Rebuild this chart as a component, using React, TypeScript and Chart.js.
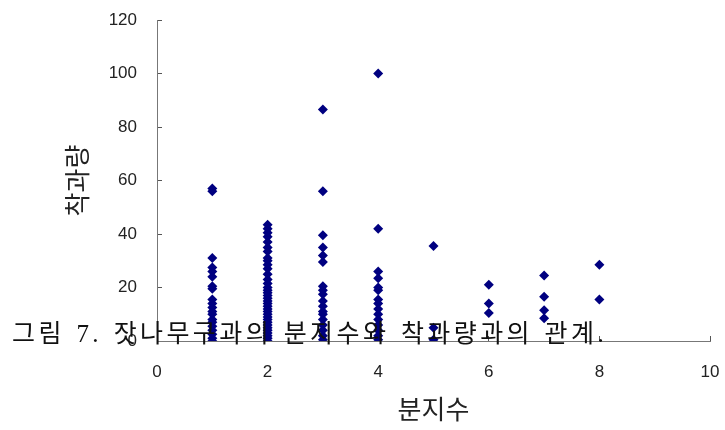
import React, { useEffect, useRef } from "react";
import { Chart, registerables } from "chart.js";

Chart.register(...registerables);

// 분지수 (number of branches) -> 착과량 (cone yield) observations
const branchCounts = [1, 2, 3, 4, 5, 6, 7, 8];
const yieldBranch1 = [57, 56, 31, 27.5, 26, 24, 20.5, 19.5, 15.5, 14, 12.5, 11, 10, 8, 7, 5.5, 4, 2.5, 1, 0];
const yieldBranch2 = [43.5, 42, 40.5, 39, 37, 35, 33.5, 31, 30, 28.5, 27, 25, 23, 21.5, 20, 19, 18, 17, 16, 15, 14, 13, 12, 11, 10, 9, 8, 7, 6, 5, 4, 3, 2, 1, 0];
const yieldBranch3 = [86.5, 56, 39.5, 35, 32, 29.5, 20.5, 19, 17.5, 15, 13, 11, 10, 8, 6, 4, 2, 0.5];
const yieldBranch4 = [100, 42, 26, 23.5, 20, 19, 15.5, 14, 12, 10, 8, 6, 4, 2, 0.5];
const yieldBranch5 = [35.5, 5, 0.5];
const yieldBranch6 = [21, 14, 10.5];
const yieldBranch7 = [24.5, 16.5, 11.5, 8.5];
const yieldBranch8 = [28.5, 15.5];

const yieldsByBranch = [
  yieldBranch1, yieldBranch2, yieldBranch3, yieldBranch4,
  yieldBranch5, yieldBranch6, yieldBranch7, yieldBranch8,
];

const xTitle = "분지수";
const yTitle = "착과량";
const caption = "그림 7. 잣나무구과의 분지수와 착과량과의 관계.";

export default function App() {
  const canvasRef = useRef<HTMLCanvasElement | null>(null);

  useEffect(() => {
    if (!canvasRef.current) return;
    const points: { x: number; y: number }[] = [];
    branchCounts.forEach((b, i) => {
      yieldsByBranch[i].forEach((v) => points.push({ x: b, y: v }));
    });

    const tickFont = { family: "'Liberation Sans', Arial, sans-serif", size: 17 };
    const titleFont = { family: "'Noto Sans CJK KR', sans-serif", size: 26 };
    const zeroPadding = (scale: any) => {
      scale.paddingTop = 0;
      scale.paddingBottom = 0;
      scale.paddingLeft = 0;
      scale.paddingRight = 0;
    };

    const chart = new Chart(canvasRef.current, {
      type: "scatter",
      data: {
        datasets: [
          {
            data: points,
            pointStyle: "rectRot",
            pointRadius: 5,
            pointBorderWidth: 0,
            backgroundColor: "#000080",
            borderColor: "#000080",
          },
        ],
      },
      options: {
        animation: false,
        responsive: true,
        maintainAspectRatio: false,
        layout: { padding: { top: 20, right: 15, left: 0, bottom: 0 } },
        plugins: { legend: { display: false }, tooltip: { enabled: false } },
        scales: {
          x: {
            type: "linear",
            min: 0,
            max: 10,
            ticks: { stepSize: 2, color: "#222", font: tickFont, padding: 26 },
            grid: { drawOnChartArea: false, drawTicks: true, tickLength: -5, color: "#555", tickWidth: 1 },
            border: { color: "#777", width: 1 },
            title: { display: true, text: xTitle, color: "#222", font: titleFont, padding: { top: 0, bottom: 5 } },
            afterFit: (scale: any) => { scale.height = 89; zeroPadding(scale); },
          },
          y: {
            type: "linear",
            min: 0,
            max: 120,
            ticks: { stepSize: 20, color: "#222", font: tickFont, padding: 25 },
            grid: { drawOnChartArea: false, drawTicks: true, tickLength: -5, color: "#555", tickWidth: 1 },
            border: { color: "#777", width: 1 },
            title: { display: true, text: yTitle, color: "#222", font: titleFont, padding: { top: 62, bottom: 0 } },
            afterFit: (scale: any) => { scale.width = 157; zeroPadding(scale); },
          },
        },
      },
    });
    return () => chart.destroy();
  }, []);

  return (
    <div style={{ position: "absolute", left: 0, top: 0, width: 725, height: 430, background: "#fff" }}>
      <canvas ref={canvasRef} />
      <div
        style={{
          position: "absolute",
          left: 12,
          top: 321,
          fontFamily: "'Liberation Serif', 'Noto Sans CJK KR', serif",
          fontSize: 25,
          lineHeight: "25px",
          letterSpacing: "3.4px",
          wordSpacing: "2px",
          color: "#111",
          whiteSpace: "nowrap",
          pointerEvents: "none",
        }}
      >
        {caption}
      </div>
    </div>
  );
}
